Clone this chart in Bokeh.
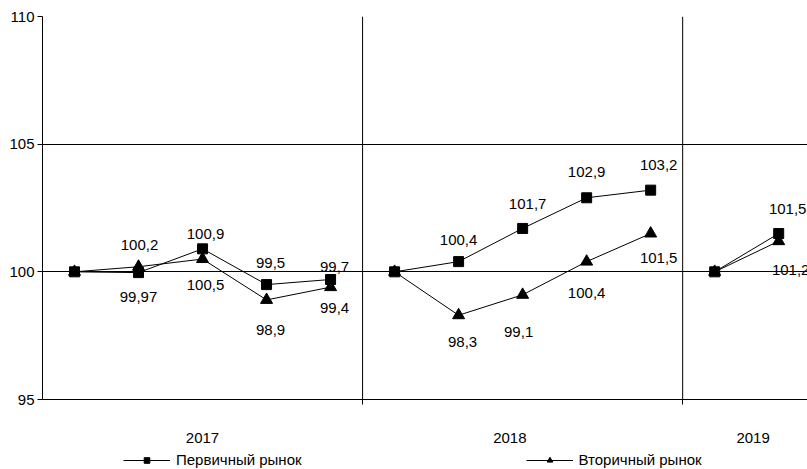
from bokeh.plotting import figure
from bokeh.layouts import column
from bokeh.models import (ColumnDataSource, FixedTicker, Legend, LegendItem, Span)
from bokeh.core.properties import value
from bokeh.embed import file_html
from bokeh.resources import INLINE

# ---- data ----
years = ["2017", "2018", "2019"]
primary_2017 = [100, 99.97, 100.9, 99.5, 99.7]
primary_2018 = [100, 100.4, 101.7, 102.9, 103.2]
primary_2019 = [100, 101.5]
secondary_2017 = [100, 100.2, 100.5, 98.9, 99.4]
secondary_2018 = [100, 98.3, 99.1, 100.4, 101.5]
secondary_2019 = [100, 101.2]
y_ticks = [95, 100, 105, 110]
series_names = ["Первичный рынок", "Вторичный рынок"]

show_label = [False, True, True, True, True,
              False, True, True, True, True,
              False, True]

prim_off = [(0, 0), (0, 24), (3, -15), (4, -22), (4, -12),
            (0, 0), (0, -22), (5, -24), (0, -26), (8, -25),
            (0, 0), (9, -25)]
sec_off = [(0, 0), (1, -22), (3, 26), (4, 30), (4, 21),
           (0, 0), (4, 27), (-4, 37), (0, 31), (8, 24),
           (0, 0), (12, 29)]

FONT = "Liberation Sans"

groups_p = [primary_2017, primary_2018, primary_2019]
groups_s = [secondary_2017, secondary_2018, secondary_2019]

p = figure(width=807, height=449, output_backend="svg", toolbar_location=None,
           x_range=(-0.5, 11.45), y_range=(95, 110),
           min_border_left=42, min_border_right=0, min_border_top=16,
           min_border_bottom=50)
p.outline_line_color = None

p.xgrid.visible = False
p.ygrid.ticker = FixedTicker(ticks=y_ticks)
p.ygrid.grid_line_color = "black"

xs_all = []
start = 0
bounds = []
for g in groups_p:
    xs_all.append(list(range(start, start + len(g))))
    start += len(g)
    bounds.append(start - 0.5)
bounds = bounds[:2]
label_pos = [2, 6.8, 10.6]
for b in bounds:
    p.add_layout(Span(location=b, dimension="height", line_color="black", line_width=1))

p.xaxis.ticker = FixedTicker(ticks=label_pos, minor_ticks=bounds)
p.xaxis.major_label_overrides = {lp: y for lp, y in zip(label_pos, years)}
p.xaxis.major_tick_line_color = None
p.xaxis.major_tick_out = 0
p.xaxis.major_tick_in = 0
p.xaxis.minor_tick_out = 5
p.xaxis.minor_tick_in = 0
p.xaxis.minor_tick_line_color = "black"
p.xaxis.axis_line_color = "black"
p.xaxis.major_label_standoff = 28
p.xaxis.major_label_text_font = FONT
p.xaxis.major_label_text_font_size = "15px"
p.xaxis.major_label_text_color = "black"

p.yaxis.ticker = FixedTicker(ticks=y_ticks)
p.yaxis.minor_tick_line_color = None
p.yaxis.major_tick_out = 5
p.yaxis.major_tick_in = 0
p.yaxis.major_tick_line_color = "black"
p.yaxis.axis_line_color = "black"
p.yaxis.major_label_standoff = 3
p.yaxis.major_label_text_font = FONT
p.yaxis.major_label_text_font_size = "15px"
p.yaxis.major_label_text_color = "black"

for xs, gp, gs in zip(xs_all, groups_p, groups_s):
    p.line(xs, gp, line_color="black", line_width=1)
    p.line(xs, gs, line_color="black", line_width=1)

all_x = [x for xs in xs_all for x in xs]
all_p = [v for g in groups_p for v in g]
all_s = [v for g in groups_s for v in g]
p.scatter(all_x, all_p, marker="square", size=10, fill_color="black", line_color="black")
p.scatter(all_x, all_s, marker="triangle", size=12, fill_color="black", line_color="black")

def fmt(v):
    return ("%g" % v).replace(".", ",")

for vals, offs in ((all_p, prim_off), (all_s, sec_off)):
    src = ColumnDataSource(dict(
        x=[x for x, s in zip(all_x, show_label) if s],
        y=[v for v, s in zip(vals, show_label) if s],
        t=[fmt(v) for v, s in zip(vals, show_label) if s],
        dx=[o[0] for o, s in zip(offs, show_label) if s],
        dy=[o[1] for o, s in zip(offs, show_label) if s],
    ))
    p.text(x="x", y="y", text="t", x_offset="dx", y_offset="dy", source=src,
           text_font=value(FONT), text_font_size="15px", text_color="black",
           text_align="center", text_baseline="middle")

# ---- legend strip (series renderers hidden, used only for legend glyphs) ----
lg = figure(width=807, height=20, output_backend="svg", toolbar_location=None,
            x_range=(-0.5, 11.45), y_range=(95, 110),
            x_axis_type=None, y_axis_type=None,
            min_border_left=0, min_border_right=0, min_border_top=0, min_border_bottom=0)
lg.grid.visible = False
lg.outline_line_color = None
l1 = lg.line(all_x, all_p, line_color="black", line_width=1, visible=False)
s1 = lg.scatter(all_x, all_p, marker="square", size=10, fill_color="black", line_color="black", visible=False)
l2 = lg.line(all_x, all_s, line_color="black", line_width=1, visible=False)
s2 = lg.scatter(all_x, all_s, marker="triangle", size=12, fill_color="black", line_color="black", visible=False)

legend = Legend(items=[
    LegendItem(label=series_names[0], renderers=[l1, s1]),
    LegendItem(label=series_names[1], renderers=[l2, s2]),
], orientation="horizontal", location=(81, 1))
legend.glyph_width = 47
legend.glyph_height = 14
legend.label_standoff = 6
legend.spacing = 224
legend.padding = 0
legend.margin = 0
legend.border_line_color = None
legend.background_fill_alpha = 0
legend.inactive_fill_alpha = 0
legend.label_text_font = FONT
legend.label_text_font_size = "15px"
legend.label_text_color = "black"
legend.label_height = 14
legend.label_text_baseline = "middle"
lg.add_layout(legend, "center")

layout = column(p, lg, spacing=0)
open("out.html", "w").write(file_html(layout, INLINE))
